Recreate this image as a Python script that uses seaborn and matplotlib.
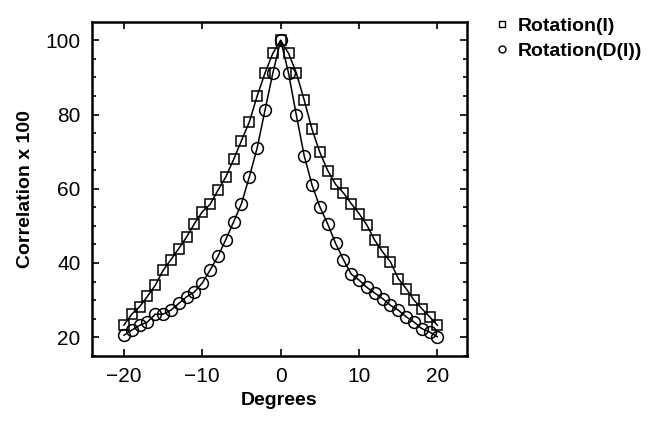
import matplotlib
matplotlib.use("Agg")
import matplotlib.pyplot as plt
from matplotlib.lines import Line2D
from matplotlib.ticker import MultipleLocator
import pandas as pd
import seaborn as sns

degrees = list(range(-20, 21))

rotation_i = [
    23.2, 26.2, 28.2, 31.0, 34.0, 38.0, 40.9, 43.9, 47.0, 50.6,
    53.8, 55.8, 59.6, 63.2, 67.9, 73.0, 78.0, 85.0, 91.2, 96.5,
    100.0,
    96.5, 91.2, 83.9, 76.0, 69.8, 64.9, 61.2, 58.9, 56.0, 53.3,
    50.2, 46.1, 43.0, 40.3, 35.8, 33.1, 30.0, 27.7, 25.5, 23.2,
]

rotation_di = [
    20.5, 21.9, 23.2, 24.1, 26.2, 26.2, 27.3, 29.1, 30.9, 32.2,
    34.6, 38.1, 41.8, 46.3, 51.1, 56.0, 63.2, 71.0, 81.2, 91.2,
    100.0,
    91.2, 79.8, 68.9, 61.0, 55.1, 50.5, 45.3, 40.9, 37.0, 35.4,
    33.4, 31.9, 30.4, 28.6, 27.3, 25.5, 24.1, 22.3, 21.4, 20.1,
]

series_labels = ["Rotation(I)", "Rotation(D(I))"]

sns.set_style("ticks", {"axes.edgecolor": "black", "text.color": "black",
                        "axes.labelcolor": "black", "xtick.color": "black",
                        "ytick.color": "black"})
plt.rcParams["font.family"] = ["Liberation Sans", "DejaVu Sans"]

df = pd.DataFrame({"deg": degrees, "rot_i": rotation_i, "rot_di": rotation_di})

fig = plt.figure(figsize=(6.6, 4.26), dpi=100)
ax = fig.add_axes([0.139, 0.164, 0.569, 0.784])

style = dict(color="black", linewidth=1.1, markerfacecolor="none",
             markeredgecolor="black", markeredgewidth=1.1, errorbar=None, ax=ax)
sns.lineplot(data=df, x="deg", y="rot_i", marker="s", markersize=7, **style)
sns.lineplot(data=df, x="deg", y="rot_di", marker="o", markersize=8.5, **style)

ax.set_xlim(-24.1, 23.8)
ax.set_ylim(14.9, 104.9)
ax.set_xticks([-20, -10, 0, 10, 20])
ax.set_yticks([20, 40, 60, 80, 100])
ax.yaxis.set_minor_locator(MultipleLocator(5))
ax.tick_params(which="both", direction="in", top=True, right=True, labelsize=15,
               width=1.2, colors="black")
ax.tick_params(which="major", length=5, pad=8)
ax.tick_params(which="minor", length=3)
for s in ax.spines.values():
    s.set_visible(True)
    s.set_linewidth(1.8)
    s.set_color("black")

ax.set_xlabel("Degrees", fontsize=14, fontweight="bold", color="black")
ax.set_ylabel("Correlation x 100", fontsize=14, fontweight="bold", color="black", labelpad=8)

handles = [
    Line2D([], [], linestyle="none", marker="s", markersize=5, markerfacecolor="none",
           markeredgecolor="black", markeredgewidth=1.0),
    Line2D([], [], linestyle="none", marker="o", markersize=5, markerfacecolor="none",
           markeredgecolor="black", markeredgewidth=1.0),
]
leg = fig.legend(handles, series_labels, loc="upper left", bbox_to_anchor=(0.725, 1.0),
                 frameon=False, handlelength=0.6, handletextpad=0.5, labelspacing=0.35,
                 prop={"size": 14, "weight": "bold"})
for t in leg.get_texts():
    t.set_color("black")

fig.savefig("out.png", dpi=100)
